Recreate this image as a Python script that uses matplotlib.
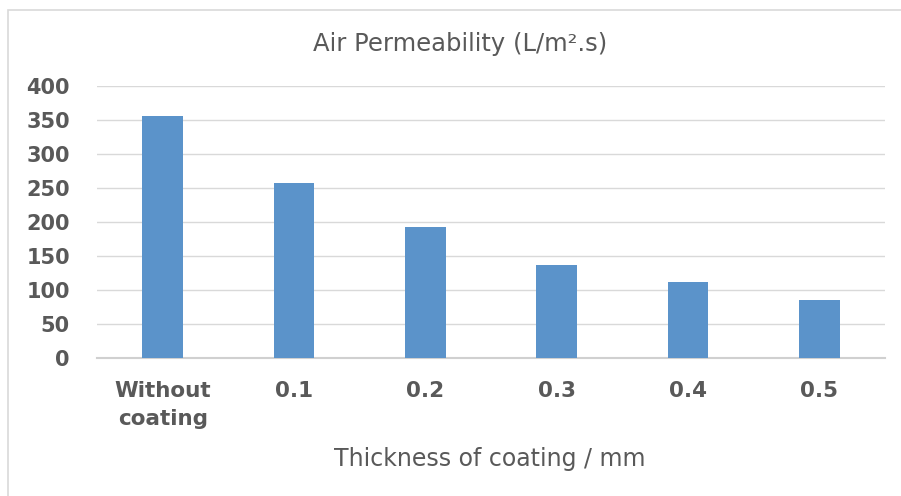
import numpy as np
import matplotlib.pyplot as plt
from matplotlib.patches import Rectangle

# Air permeability vs coating thickness
categories = ['Without\ncoating', '0.1', '0.2', '0.3', '0.4', '0.5']
air_perm = [356, 258, 193, 137, 112, 86]
yticks = [0, 50, 100, 150, 200, 250, 300, 350, 400]

txt = '#595959'
fig = plt.figure(figsize=(9.01, 4.96), dpi=100)
ax = fig.add_axes([97/901, 137.7/496, 788/901, 272/496])

x = np.arange(len(categories))
ax.bar(x, air_perm, width=0.31, color='#5B93CA', zorder=3)

ax.set_xlim(-0.5, len(categories) - 0.5)
ax.set_ylim(0, 400)
ax.set_yticks(yticks)
ax.set_yticklabels([str(v) for v in yticks], fontsize=15, fontweight='bold', color=txt)
ax.set_xticks(x)
ax.set_xticklabels(categories, fontsize=15.5, fontweight='bold', color=txt, linespacing=1.55)
ax.tick_params(axis='both', length=0)
ax.tick_params(axis='y', pad=19.5)
ax.tick_params(axis='x', pad=16)

ax.grid(axis='y', color='#d9d9d9', linewidth=1, zorder=0)
for s in ['top', 'right', 'left']:
    ax.spines[s].set_visible(False)
ax.spines['bottom'].set_color('#d0d0d0')
ax.spines['bottom'].set_linewidth(1.5)

fig.text(490/901, 1 - 459/496, 'Thickness of coating / mm', fontsize=17,
         color=txt, ha='center', va='center')
fig.text(460/901, 1 - 44/496, 'Air Permeability (L/m².s)', fontsize=17.5,
         color=txt, ha='center', va='center')

# chart border (left and top visible)
fig.patches.append(Rectangle((7.5/901, -0.1), 1.2, 1 - 10/496 + 0.1,
                             transform=fig.transFigure, fill=False,
                             edgecolor='#d9d9d9', linewidth=1.2))

fig.savefig('out.png', dpi=100)
